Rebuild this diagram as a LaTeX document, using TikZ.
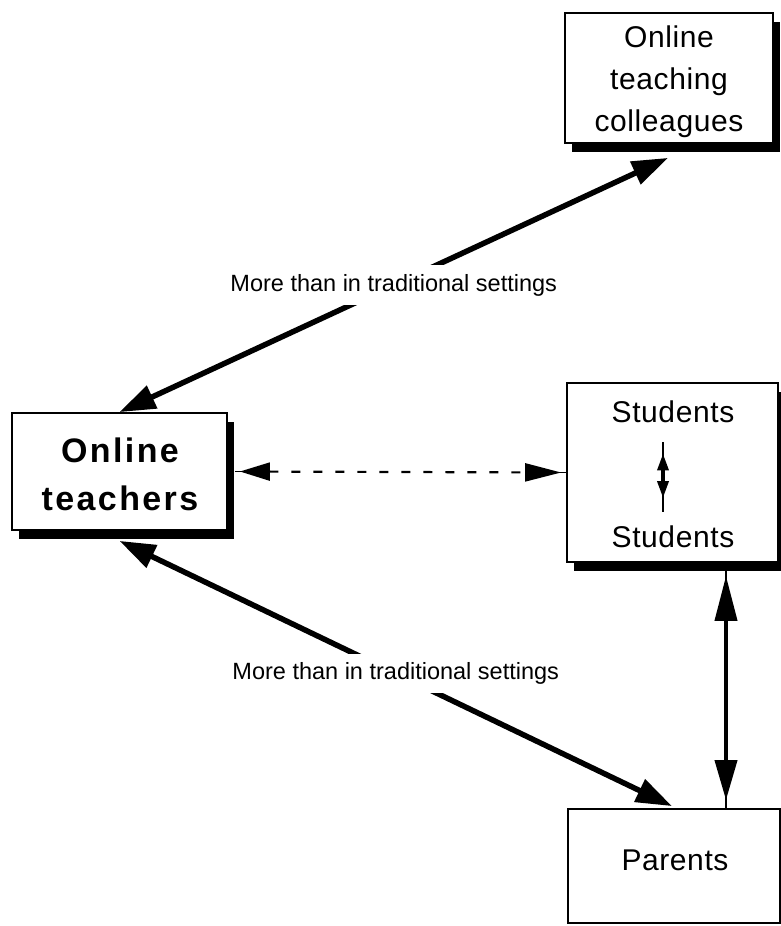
\documentclass[tikz,border=0pt]{standalone}
\usepackage{fontspec}
\setmainfont{Liberation Sans}
\usetikzlibrary{arrows.meta,shadows}

\begin{document}
\begin{tikzpicture}[x=1pt,y=-1pt,
  box/.style={draw=black, line width=1.8pt, fill=white, inner sep=0pt},
  shadowed/.style={drop shadow={shadow xshift=7pt, shadow yshift=-9pt, fill=black, opacity=1}},
  boxtext/.style={inner sep=0pt, align=center,
    font=\fontsize{30}{42}\selectfont\addfontfeatures{LetterSpace=2}},
  boldtext/.style={inner sep=0pt, align=center,
    font=\fontsize{34}{48}\selectfont\bfseries\addfontfeatures{LetterSpace=7}},
  lbl/.style={fill=white, inner xsep=2pt, inner ysep=9pt,
    font=\fontsize{23.5}{28}\selectfont},
  heavy/.style={line width=5.5pt,
    {Triangle[length=36pt,width=24pt]}-{Triangle[length=36pt,width=24pt]}},
  stub/.style={line width=1.5pt},
  dasharrow/.style={line width=2.2pt, dash pattern=on 9pt off 13pt,
    {Triangle[length=30pt,width=18pt]}-{Triangle[length=36pt,width=18pt]}},
  vertarrow/.style={line width=4pt,
    {Triangle[length=45pt,width=22pt]}-{Triangle[length=40pt,width=22pt]}},
  smallarrow/.style={line width=3.5pt,
    {Triangle[length=17pt,width=11pt]}-{Triangle[length=17pt,width=11pt]}}]

  % canvas
  \fill[white] (0,0) rectangle (781,926);
  \useasboundingbox (0,0) rectangle (781,926);

  % boxes
  \node[box, shadowed, minimum width=208pt, minimum height=130pt] (colleagues) at (669,78) {};
  \node[boxtext, anchor=north] (colleaguesText) at (669,26) {Online\\teaching\\colleagues};

  \node[box, shadowed, minimum width=215pt, minimum height=117pt] (teachers) at (119.5,471.5) {};
  \node[boldtext, anchor=north] (teachersText) at (120,438) {Online\\teachers};

  \node[box, shadowed, minimum width=211pt, minimum height=179pt] (students) at (672.5,472.5) {};
  \node[boxtext, anchor=base] (s1) at (673,422) {Students};
  \node[boxtext, anchor=base] (s2) at (673,547) {Students};

  \node[box, minimum width=212pt, minimum height=114pt] (parents) at (674,866) {};
  \node[boxtext, anchor=base] (parentsText) at (675,870) {Parents};

  % teachers <-> colleagues
  \draw[heavy] (teachers.north) --
    node[lbl] (lblTop) {More than in traditional settings}
    ([xshift=-1pt,yshift=-14pt]colleagues.south);

  % teachers <-> parents
  \draw[heavy] ([yshift=-10pt]teachers.south) --
    node[lbl] (lblBottom) {More than in traditional settings}
    ([xshift=-2pt,yshift=2pt]parents.north);

  % teachers <-> students (dashed), with short solid stubs at the tips
  \draw[stub] ([xshift=7pt]teachers.east) -- ([xshift=13pt]teachers.east);
  \draw[stub] ([xshift=-6pt]students.west) -- (students.west);
  \draw[dasharrow] ([xshift=12pt]teachers.east) -- ([xshift=-5pt]students.west);

  % students <-> parents
  \draw[stub] ([xshift=53.5pt]students.south) -- ([xshift=52pt]parents.north);
  \draw[vertarrow] ([xshift=53.5pt,yshift=-13pt]students.south) -- ([xshift=52pt,yshift=8pt]parents.north);

  % students <-> students
  \draw[stub] ([xshift=-10pt,yshift=-20pt]s1.south) -- ([xshift=-10pt,yshift=13pt]s2.north);
  \draw[smallarrow] ([xshift=-10pt,yshift=-31pt]s1.south) -- ([xshift=-10pt,yshift=27pt]s2.north);
\end{tikzpicture}
\end{document}
